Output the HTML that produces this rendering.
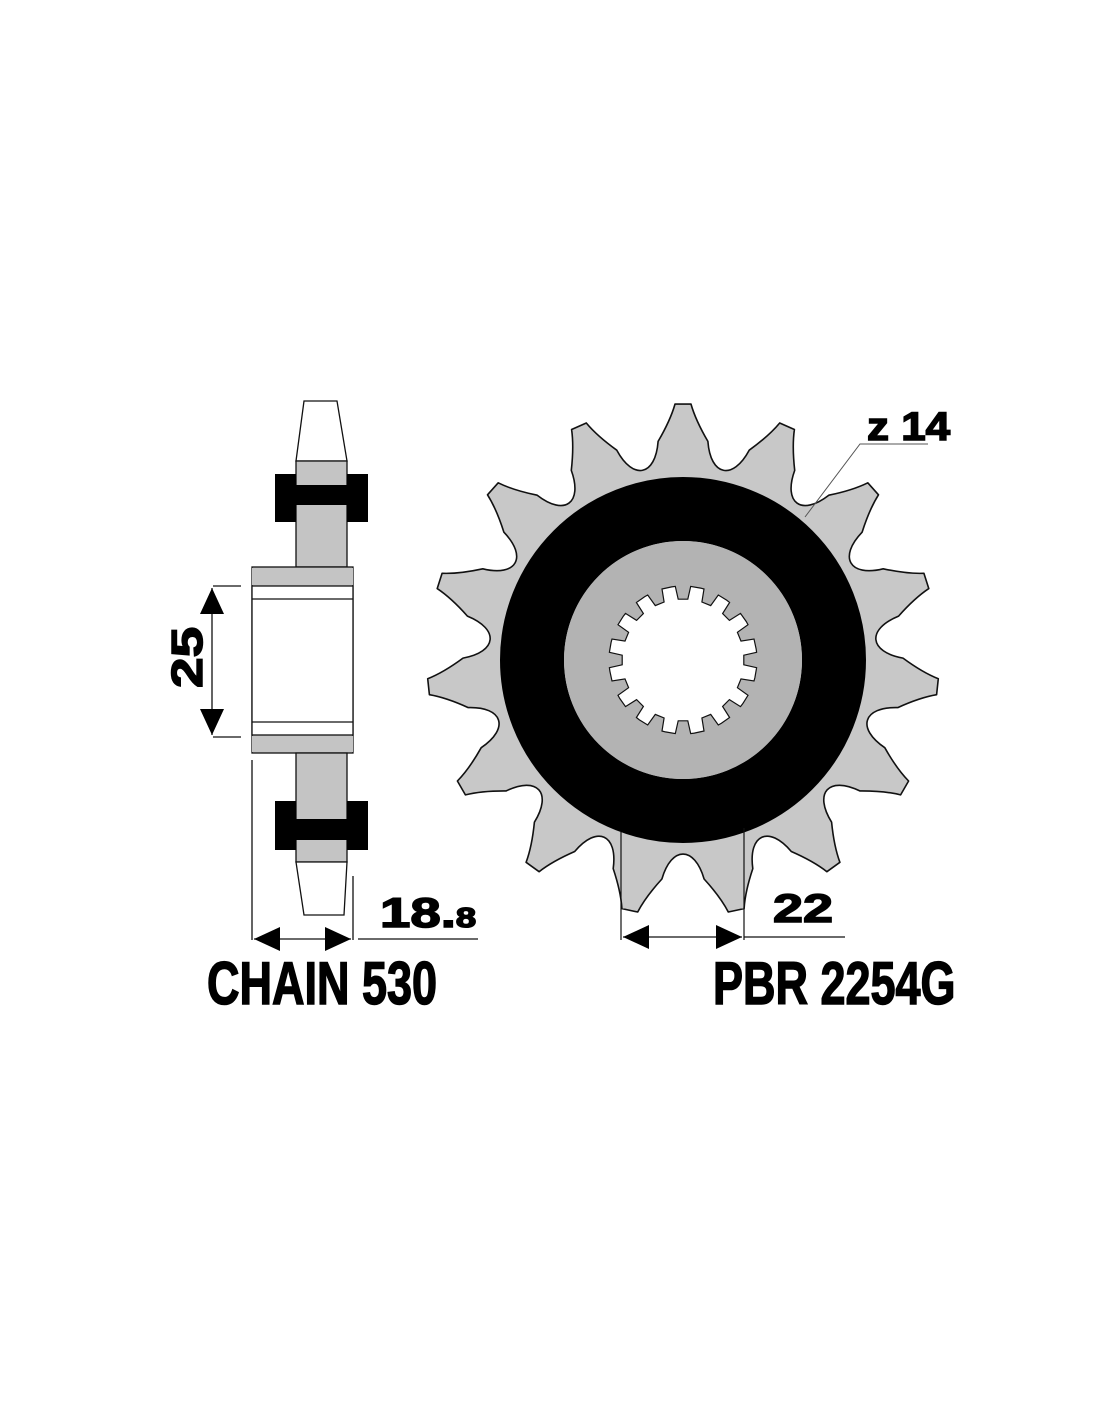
<!DOCTYPE html>
<html><head><meta charset="utf-8"><style>
html,body{margin:0;padding:0;background:#fff}
svg{display:block}
</style></head><body>
<svg id="s" width="1100" height="1422" viewBox="0 0 1100 1422" xmlns="http://www.w3.org/2000/svg">
<defs>
<marker id="a" viewBox="0 0 26 24" refX="26" refY="12" markerWidth="26" markerHeight="24" markerUnits="userSpaceOnUse" orient="auto-start-reverse"><path d="M0 0L26 12L0 24z" fill="#000"/></marker>
</defs>
<g stroke="#111" stroke-width="1.3">
<path d="M304 401L337 401L347 461L296 461Z" fill="#fff"/>
<rect x="296" y="461" width="51" height="106" fill="#c4c4c4"/>
<rect x="252" y="567" width="101" height="186" fill="#c4c4c4"/>
<rect x="252" y="586" width="101" height="149" fill="#fff"/>
<line x1="252" y1="599" x2="353" y2="599"/>
<line x1="252" y1="722" x2="353" y2="722"/>
<rect x="296" y="753" width="51" height="109" fill="#c4c4c4"/>
<path d="M296 862L347 862L344 915L304 915Z" fill="#fff"/>
</g>
<rect x="252" y="568" width="101" height="17" fill="#c4c4c4"/>
<rect x="252" y="736" width="101" height="16" fill="#c4c4c4"/>
<g fill="#000">
<rect x="275" y="474" width="21" height="48"/><rect x="347" y="474" width="21" height="48"/><rect x="275" y="485" width="93" height="20"/>
<rect x="275" y="801" width="21" height="49"/><rect x="347" y="801" width="21" height="49"/><rect x="275" y="819" width="93" height="21"/>
</g>
<g stroke="#111" stroke-width="1.3" fill="none">
<line x1="213" y1="586" x2="241" y2="586"/><line x1="213" y1="737" x2="241" y2="737"/>
<line x1="212" y1="588" x2="212" y2="735" marker-start="url(#a)" marker-end="url(#a)"/>
<line x1="252" y1="760" x2="252" y2="940"/><line x1="353" y1="876" x2="353" y2="940"/>
<line x1="254" y1="939" x2="351" y2="939" marker-start="url(#a)" marker-end="url(#a)"/>
<line x1="358" y1="939" x2="478" y2="939"/>
</g>
<g font-family="Liberation Sans,sans-serif" font-weight="bold" fill="#000" stroke="#000" stroke-width="1.5">
<text transform="translate(202,688) rotate(-90) scale(1.25,1)" font-size="44">25</text>
<text transform="translate(380,927) scale(1.3,1)" font-size="42">18.<tspan font-size="28">8</tspan></text>
<text transform="translate(207,1004) scale(0.75,1)" font-size="60">CHAIN 530</text>
</g>
<path id="sp" fill="#c8c8c8" stroke="#111" stroke-width="1.6" stroke-linejoin="round"/>
<circle cx="683" cy="660" r="151" fill="none" stroke="#000" stroke-width="64"/>
<circle cx="683" cy="660" r="119" fill="#b3b3b3"/>
<path id="bore" fill="#fff" stroke="#111" stroke-width="1.2"/>
<g stroke="#111" stroke-width="1.2" fill="none">
<line x1="621" y1="832" x2="621" y2="940"/><line x1="744" y1="828" x2="744" y2="940"/>
<line x1="623" y1="937" x2="742" y2="937" marker-start="url(#a)" marker-end="url(#a)"/>
<line x1="744" y1="937" x2="845" y2="937"/>
</g>
<polyline points="928,444 860,444 805,517" fill="none" stroke="#555" stroke-width="1"/>
<g font-family="Liberation Sans,sans-serif" font-weight="bold" fill="#000" stroke="#000" stroke-width="1.5">
<text transform="translate(867,440) scale(1.1,1)" font-size="40">z 14</text>
<text transform="translate(773,922) scale(1.35,1)" font-size="40">22</text>
<text transform="translate(713,1004) scale(0.75,1)" font-size="60">PBR 2254G</text>
</g>
</svg>
<script>
(function(){
var cx=683,cy=660,R=256,d=Math.PI/180,N=15,p=360/N;
function P(r,a){return (cx+r*Math.cos(a*d)).toFixed(1)+' '+(cy+r*Math.sin(a*d)).toFixed(1);}
var s='';
for(var i=0;i<N;i++){
 var a=-90+i*p;
 s+=(i==0?'M':'L')+P(220,a-6.5)+' Q'+P(240,a-3)+' '+P(R,a-1.8)+' L'+P(R,a+1.8)+' Q'+P(240,a+3)+' '+P(220,a+6.5)+' C'+P(186,a+8.5)+' '+P(186,a+p-8.5)+' '+P(220,a+p-6.5)+' ';
}
document.getElementById('sp').setAttribute('d',s+'Z');
var b='',M=16,q=360/M,r1=74,r2=61;
for(var j=0;j<M;j++){
 var t=-90+j*q;
 b+=(j==0?'M':'L')+P(r1,t-q/2+2.5)+' L'+P(r1,t-6)+' L'+P(r2,t-4.5)+' L'+P(r2,t+4.5)+' L'+P(r1,t+6)+' ';
}
document.getElementById('bore').setAttribute('d',b+'Z');
})();
</script>
</body></html>
